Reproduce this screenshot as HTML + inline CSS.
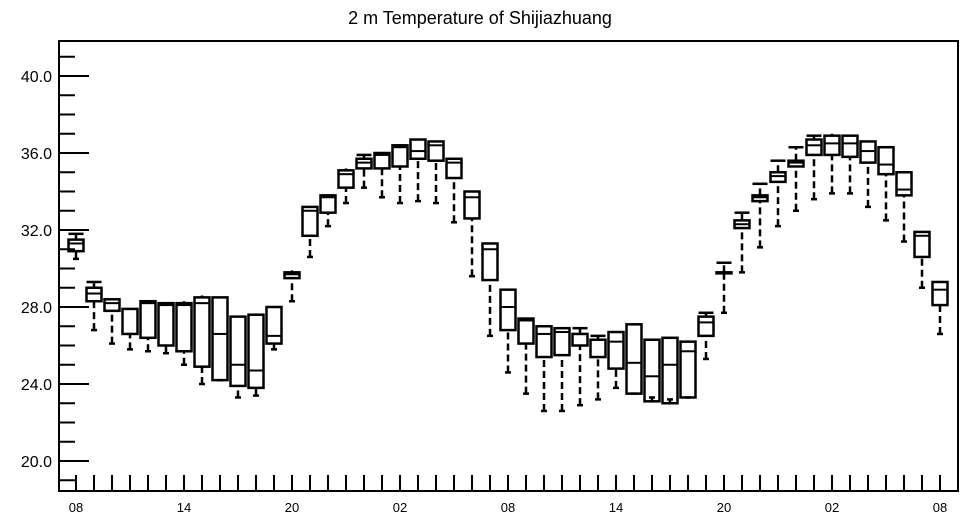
<!DOCTYPE html>
<html><head><meta charset="utf-8"><style>
body{margin:0;background:#fff;}
svg{display:block;font-family:"Liberation Sans",Helvetica,sans-serif;}
</style></head><body>
<svg id="chart" width="964" height="520" viewBox="0 0 964 520">
<text x="480" y="24" text-anchor="middle" font-size="18">2 m Temperature of Shijiazhuang</text>
<g id="axes"></g>
<g id="boxes"></g>
</svg>
<script>
const tickLabels = ["08","14","20","02","08","14","20","02","08"];
const yTickLabels = ["20.0","24.0","28.0","32.0","36.0","40.0"];
const mins = [30.5,26.8,26.1,25.8,25.7,25.6,25.0,24.0,24.2,23.3,23.4,25.8,28.3,30.6,32.2,33.4,34.2,33.7,33.4,33.5,33.4,32.4,29.6,26.5,24.6,23.5,22.6,22.6,22.9,23.2,23.8,23.5,23.3,23.2,23.3,25.3,27.7,29.8,31.1,32.2,33.0,33.6,33.9,33.9,33.2,32.5,31.4,29.0,26.6];
const q1s = [30.9,28.3,27.8,26.6,26.4,26.0,25.7,24.9,24.2,23.9,23.8,26.1,29.5,31.7,32.9,34.2,35.2,35.2,35.3,35.7,35.6,34.7,32.6,29.4,26.8,26.1,25.4,25.5,26.0,25.4,24.8,23.5,23.1,23.0,23.3,26.5,29.8,32.1,33.5,34.5,35.3,35.9,35.9,35.8,35.5,34.9,33.8,30.6,28.1];
const medians = [31.3,28.7,28.2,27.9,28.2,28.1,28.1,28.2,26.6,25.0,24.7,26.5,29.7,33.0,33.7,34.9,35.5,35.9,36.3,36.1,36.4,35.5,33.7,31.0,28.0,27.3,26.6,26.7,26.6,26.3,26.2,25.1,24.4,25.0,25.7,27.2,29.8,32.3,33.7,34.8,35.5,36.4,36.5,36.5,36.1,35.4,34.1,31.7,28.9];
const q3s = [31.5,29.0,28.4,27.9,28.3,28.2,28.2,28.5,28.5,27.5,27.6,28.0,29.8,33.2,33.8,35.1,35.7,36.0,36.4,36.7,36.6,35.7,34.0,31.3,28.9,27.4,27.0,26.9,26.6,26.3,26.7,27.1,26.3,26.4,26.2,27.5,29.8,32.5,33.8,35.0,35.6,36.7,36.9,36.9,36.6,36.3,35.0,31.9,29.3];
const maxs = [31.8,29.3,28.4,27.9,28.3,28.2,28.3,28.6,28.5,27.5,27.6,28.0,29.9,33.2,33.8,35.2,35.9,36.0,36.4,36.7,36.6,35.7,34.0,31.3,28.9,27.4,27.0,26.9,26.9,26.5,26.7,27.1,26.3,26.4,26.2,27.7,30.3,32.9,34.4,35.6,36.3,36.9,37.0,36.9,36.6,36.3,35.0,31.9,29.3];

const NS="http://www.w3.org/2000/svg";
const X0=59,X1=958,Y0=41,Y1=491;
const xScale=i=>76+i*18;
const yScale=v=>76+(40-v)*19.25;
function mk(tag,attrs,parent){const e=document.createElementNS(NS,tag);for(const k in attrs)e.setAttribute(k,attrs[k]);parent.appendChild(e);return e;}
const axes=document.getElementById('axes');
const frame=mk('rect',{x:X0,y:Y0,width:X1-X0,height:Y1-Y0,fill:'none',stroke:'#000','stroke-width':2},axes);


// y ticks
for(let v=19;v<=41;v++){
  const y=yScale(v);if(y<Y0||y>Y1)continue;
  const major=(v%4===0);
  const t=mk('line',{x1:X0,x2:X0+(major?30:16),y1:y,y2:y,stroke:'#000','stroke-width':2},axes);
  
  
}
yTickLabels.forEach(s=>{
  const v=parseFloat(s);
  const t=mk('text',{x:52,y:yScale(v)+6,'text-anchor':'end','font-size':16},axes);
  t.textContent=s;
  
  
});
// x ticks
for(let i=0;i<mins.length;i++){
  const x=xScale(i);
  const t=mk('line',{x1:x,x2:x,y1:Y1,y2:Y1-16,stroke:'#000','stroke-width':2},axes);
  
  
}
tickLabels.forEach((s,k)=>{
  const t=mk('text',{x:xScale(k*6),y:512,'text-anchor':'middle','font-size':13},axes);
  t.textContent=s;
  
  
});
// boxes
const bg=document.getElementById('boxes');
for(let i=0;i<mins.length;i++){
  const x=xScale(i),w=15;
  const g=mk('g',{},bg);
  
  
  mk('line',{x1:x,x2:x,y1:yScale(mins[i]),y2:yScale(q1s[i]),stroke:'#000','stroke-width':2.5,'stroke-dasharray':'7,4'},g);
  mk('line',{x1:x,x2:x,y1:yScale(q3s[i]),y2:yScale(maxs[i]),stroke:'#000','stroke-width':2.5,'stroke-dasharray':'7,4'},g);
  mk('line',{x1:x-3,x2:x+3,y1:yScale(mins[i]),y2:yScale(mins[i]),stroke:'#000','stroke-width':2.5},g);
  if(maxs[i]-q3s[i]>0.15) mk('line',{x1:x-w/2,x2:x+w/2,y1:yScale(maxs[i]),y2:yScale(maxs[i]),stroke:'#000','stroke-width':2.5},g);
  mk('rect',{x:x-w/2,y:yScale(q3s[i]),width:w,height:Math.max(1,yScale(q1s[i])-yScale(q3s[i])),fill:'none',stroke:'#000','stroke-width':2.5},g);
  mk('line',{x1:x-w/2,x2:x+w/2,y1:yScale(medians[i]),y2:yScale(medians[i]),stroke:'#000','stroke-width':2},g);
}
</script>
</body></html>
